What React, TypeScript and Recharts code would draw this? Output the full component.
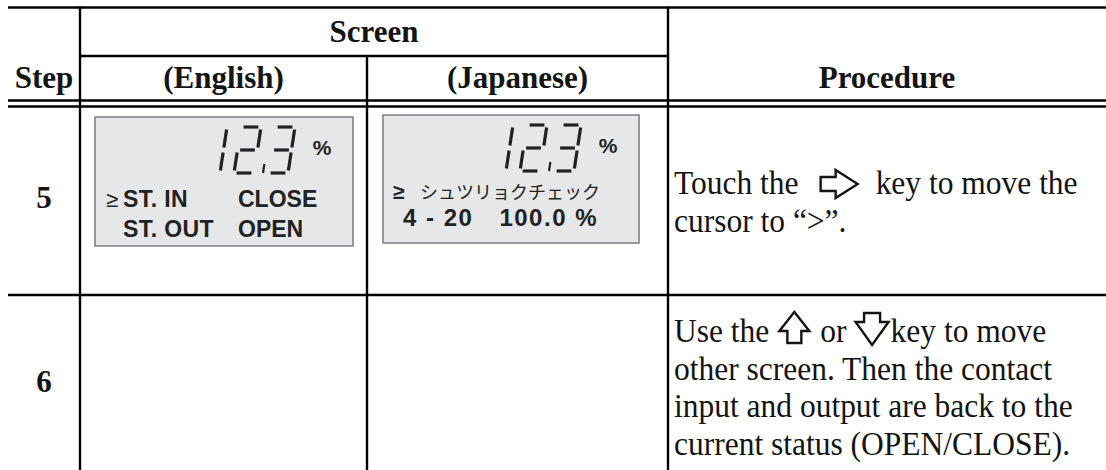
import React from 'react';
import { ScatterChart, Scatter, XAxis, YAxis, ReferenceLine, ReferenceArea } from 'recharts';

// ---------------- data ----------------
const headerTop = ['Screen'];
const headerColumns = ['Step', '(English)', '(Japanese)', 'Procedure'];
const steps = ['5', '6'];
const lcdReadings = ['12.3', '12.3'];
const lcdUnit = '%';
const englishScreen = [
  ['≥', 'ST. IN', 'CLOSE'],
  ['', 'ST. OUT', 'OPEN'],
];
const japaneseScreen = [
  ['≥', 'シュツリョクチェック', ''],
  ['', '4 - 20', '100.0 %'],
];
const procedureStep5 = [
  ['Touch the', '{right}', 'key to move the'],
  ['cursor to “>”.'],
];
const procedureStep6 = [
  ['Use the', '{up}', 'or', '{down}', 'key to move'],
  ['other screen. Then the contact'],
  ['input and output are back to the'],
  ['current status (OPEN/CLOSE).'],
];

// ---------------- layout ----------------
const W = 1106;
const H = 470;
const COLS = [8, 80, 367, 668, 1106];
const Y_TOP = 7.5;
const Y_SCREEN = 56;
const Y_HEAD_A = 100.5;
const Y_HEAD_B = 106.5;
const Y_ROW5 = 295;
const Y_BOTTOM = 470;
const HEADER_BASE_1 = 42;
const HEADER_BASE_2 = 88;
const STEP_BASES = [208, 392];
const PROC_X = 674;
const PROC_BASES = [[194, 232], [342, 380, 417, 455]];
const LCD_BOXES = [
  { x1: 95, x2: 353, y1: 117, y2: 246 },
  { x1: 383, x2: 639, y1: 115, y2: 243 },
];

const SERIF = '"Liberation Serif", "Times New Roman", serif';
const SANS = '"Liberation Sans", Arial, sans-serif';
const CJK = '"Noto Sans CJK JP", "Noto Sans CJK SC", sans-serif';
const INK = '#141414';
const LCD_INK = '#222';
const RULE = 2.4;
const PROC_SIZE = 31.5;
const PROC_STRETCH = 1.08;
const HEAD_SIZE = 31;

let ctx: CanvasRenderingContext2D | null = null;
function measure(text: string, font: string): number {
  if (!ctx) ctx = document.createElement('canvas').getContext('2d');
  if (!ctx) return text.length * 14;
  ctx.font = font;
  return ctx.measureText(text).width;
}

// ---------------- built tables ----------------
const hRules = [
  [COLS[0], COLS[4], Y_TOP],
  [COLS[1], COLS[3], Y_SCREEN],
  [COLS[0], COLS[4], Y_HEAD_A],
  [COLS[0], COLS[4], Y_HEAD_B],
  [COLS[0], COLS[4], Y_ROW5],
];
const vRules = [
  [COLS[1], Y_TOP - 1, Y_BOTTOM],
  [COLS[2], Y_SCREEN, Y_BOTTOM],
  [COLS[3], Y_TOP - 1, Y_BOTTOM],
];

const headerPoints = [
  { x: (COLS[1] + COLS[3]) / 2, y: HEADER_BASE_1, label: headerTop[0] },
  ...headerColumns.map((label, i) => ({ x: (COLS[i] + COLS[i + 1]) / 2, y: HEADER_BASE_2, label })),
];
const stepPoints = steps.map((label, i) => ({ x: (COLS[0] + COLS[1]) / 2, y: STEP_BASES[i], label }));

const lcdPoints = LCD_BOXES.map((b, i) => ({
  x: b.x2,
  y: b.y1,
  width: b.x2 - b.x1,
  reading: lcdReadings[i],
  lang: i === 0 ? 'en' : 'ja',
  lines: i === 0 ? englishScreen : japaneseScreen,
}));

const procedurePoints = [procedureStep5, procedureStep6].flatMap((lines, r) =>
  lines.map((segments, j) => ({ x: PROC_X, y: PROC_BASES[r][j], segments }))
);

// ---------------- shapes ----------------
const SEGMENTS: Record<string, string> = {
  '0': 'abcdef', '1': 'bc', '2': 'abged', '3': 'abgcd', '4': 'fgbc',
  '5': 'afgcd', '6': 'afgedc', '7': 'abc', '8': 'abcdefg', '9': 'abcdfg',
};

function SevenSeg({ right, top, text }: { right: number; top: number; text: string }) {
  const a = 20, h = 46, s = 7, g = 2.6, pitch = 34;
  const digits = text.replace('.', '').split('');
  const dotAfter = text.indexOf('.') - 1;
  const bottom = top + h;
  const firstLeft = right - 85 - (digits.length - 1) * pitch;
  const els: React.ReactNode[] = [];
  digits.forEach((d, i) => {
    const L = firstLeft + i * pitch;
    const P = (u: number, v: number) => [L + u + (s * v) / h, bottom - v];
    const segDefs: Record<string, number[][]> = {
      a: [P(g, h), P(a - g, h)],
      b: [P(a, h - g), P(a, h / 2 + g)],
      c: [P(a, h / 2 - g), P(a, g)],
      d: [P(g, 0), P(a - g, 0)],
      e: [P(0, h / 2 - g), P(0, g)],
      f: [P(0, h - g), P(0, h / 2 + g)],
      g: [P(g, h / 2), P(a - g, h / 2)],
    };
    (SEGMENTS[d] || '').split('').forEach((k) => {
      const [p1, p2] = segDefs[k];
      els.push(
        <line key={`${i}${k}`} x1={p1[0]} y1={p1[1]} x2={p2[0]} y2={p2[1]}
          stroke={LCD_INK} strokeWidth={3.2} strokeLinecap="butt" />
      );
    });
    if (i === dotAfter) {
      const dx = L + a + 9;
      els.push(<line key={`dot${i}`} x1={dx + 1.4} y1={bottom - 9} x2={dx} y2={bottom}
        stroke={LCD_INK} strokeWidth={2.2} />);
    }
  });
  return <g>{els}</g>;
}

const LCD_TEXT = {
  en: [
    { dy: 90, cols: [
      { dx: 11, font: SANS, size: 22, weight: 400, anchor: 'start', ls: 0 },
      { dx: 28, font: SANS, size: 23, weight: 700, anchor: 'start', ls: 0.4 },
      { dx: 143, font: SANS, size: 23, weight: 700, anchor: 'start', ls: 0 },
    ] },
    { dy: 120, cols: [
      { dx: 11, font: SANS, size: 22, weight: 400, anchor: 'start', ls: 0 },
      { dx: 28, font: SANS, size: 23, weight: 700, anchor: 'start', ls: 0.4 },
      { dx: 143, font: SANS, size: 23, weight: 700, anchor: 'start', ls: 0 },
    ] },
  ],
  ja: [
    { dy: 84, cols: [
      { dx: 10, font: SANS, size: 21, weight: 700, anchor: 'start', ls: 0 },
      { dx: 37, font: CJK, size: 18, weight: 400, anchor: 'start', ls: 0 },
      { dx: 215, font: SANS, size: 24, weight: 700, anchor: 'end', ls: 1.5 },
    ] },
    { dy: 111, cols: [
      { dx: 10, font: SANS, size: 21, weight: 700, anchor: 'start', ls: 0 },
      { dx: 20, font: SANS, size: 24, weight: 700, anchor: 'start', ls: 1.5 },
      { dx: 215, font: SANS, size: 24, weight: 700, anchor: 'end', ls: 1.5 },
    ] },
  ],
};

const renderLcd = (props: any) => {
  const { cx, cy, payload } = props;
  const right = cx;
  const top = cy;
  const left = right - payload.width;
  const layout = (LCD_TEXT as any)[payload.lang];
  return (
    <g>
      <SevenSeg right={right} top={top + 10} text={payload.reading} />
      <text x={right - 31} y={top + 38} textAnchor="middle" fontFamily={SANS} fontWeight={700}
        fontSize={21} fill={LCD_INK}>{lcdUnit}</text>
      {payload.lines.map((row: string[], r: number) =>
        row.map((t: string, c: number) => {
          if (!t) return null;
          const spec = layout[r].cols[c];
          return (
            <text key={`${r}-${c}`} x={left + spec.dx} y={top + layout[r].dy}
              textAnchor={spec.anchor} fontFamily={spec.font} fontSize={spec.size}
              fontWeight={spec.weight} letterSpacing={spec.ls} fill={LCD_INK}>{t}</text>
          );
        })
      )}
    </g>
  );
};

const renderBoldLabel = (props: any) => {
  const { cx, cy, payload } = props;
  return (
    <text x={cx} y={cy} textAnchor="middle" fontFamily={SERIF} fontWeight={700}
      fontSize={HEAD_SIZE} fill={INK}>{payload.label}</text>
  );
};

const ICONS: Record<string, { w: number; before: number; after: number }> = {
  '{right}': { w: 37, before: 22, after: 18 },
  '{up}': { w: 30, before: 10, after: 11 },
  '{down}': { w: 33, before: 9, after: 2 },
};

function ArrowIcon({ kind, x, base }: { kind: string; x: number; base: number }) {
  let pts: number[][] = [];
  if (kind === '{right}') {
    const c = base - 10;
    pts = [[x, c - 7], [x + 15, c - 7], [x + 15, c - 14], [x + 37, c], [x + 15, c + 14], [x + 15, c + 7], [x, c + 7]];
  } else if (kind === '{up}') {
    const b = base + 1;
    const t = b - 31;
    pts = [[x + 15, t], [x + 30, t + 19], [x + 22, t + 19], [x + 22, b], [x + 8, b], [x + 8, t + 19], [x, t + 19]];
  } else {
    const t = base - 29;
    const b = t + 32;
    pts = [[x + 8.5, t], [x + 24.5, t], [x + 24.5, t + 9], [x + 33, t + 9], [x + 16.5, b], [x, t + 9], [x + 8.5, t + 9]];
  }
  return (
    <polygon points={pts.map((p) => p.join(',')).join(' ')} fill="#fff" stroke={INK}
      strokeWidth={2.4} strokeLinejoin="miter" />
  );
}

const PROC_FONT = `${PROC_SIZE}px "Liberation Serif"`;

const renderProcedure = (props: any) => {
  const { cx, cy, payload } = props;
  let x = cx;
  const parts: React.ReactNode[] = [];
  payload.segments.forEach((seg: string, i: number) => {
    const icon = ICONS[seg];
    if (icon) {
      x += icon.before;
      parts.push(<ArrowIcon key={i} kind={seg} x={x} base={cy} />);
      x += icon.w + icon.after;
    } else {
      parts.push(
        <text key={i} x={x} y={cy} fontFamily={SERIF} fontSize={PROC_SIZE} fill={INK}
          transform={`translate(0 ${cy}) scale(1 ${PROC_STRETCH}) translate(0 ${-cy})`}>{seg}</text>
      );
      x += measure(seg, PROC_FONT);
    }
  });
  return <g>{parts}</g>;
};

export default function App() {
  return (
    <div style={{ position: 'absolute', left: 0, top: 0, width: W, height: H, background: '#fff' }}>
      <ScatterChart width={W} height={H} margin={{ top: 0, right: 0, bottom: 0, left: 0 }}>
        <XAxis type="number" dataKey="x" domain={[0, W]} hide allowDataOverflow />
        <YAxis type="number" dataKey="y" domain={[0, H]} reversed hide allowDataOverflow width={0} />
        {LCD_BOXES.map((b, i) => (
          <ReferenceArea key={`box${i}`} x1={b.x1} x2={b.x2} y1={b.y1} y2={b.y2} fill="#e6e7e8"
            fillOpacity={1} stroke="#808080" strokeWidth={1.6} ifOverflow="visible" />
        ))}
        {hRules.map(([x1, x2, y], i) => (
          <ReferenceLine key={`h${i}`} segment={[{ x: x1, y }, { x: x2, y }]} stroke="#000"
            strokeWidth={RULE} ifOverflow="visible" />
        ))}
        {vRules.map(([x, y1, y2], i) => (
          <ReferenceLine key={`v${i}`} segment={[{ x, y: y1 }, { x, y: y2 }]} stroke="#000"
            strokeWidth={RULE} ifOverflow="visible" />
        ))}
        <Scatter data={headerPoints} shape={renderBoldLabel} isAnimationActive={false} />
        <Scatter data={stepPoints} shape={renderBoldLabel} isAnimationActive={false} />
        <Scatter data={lcdPoints} shape={renderLcd} isAnimationActive={false} />
        <Scatter data={procedurePoints} shape={renderProcedure} isAnimationActive={false} />
      </ScatterChart>
    </div>
  );
}
